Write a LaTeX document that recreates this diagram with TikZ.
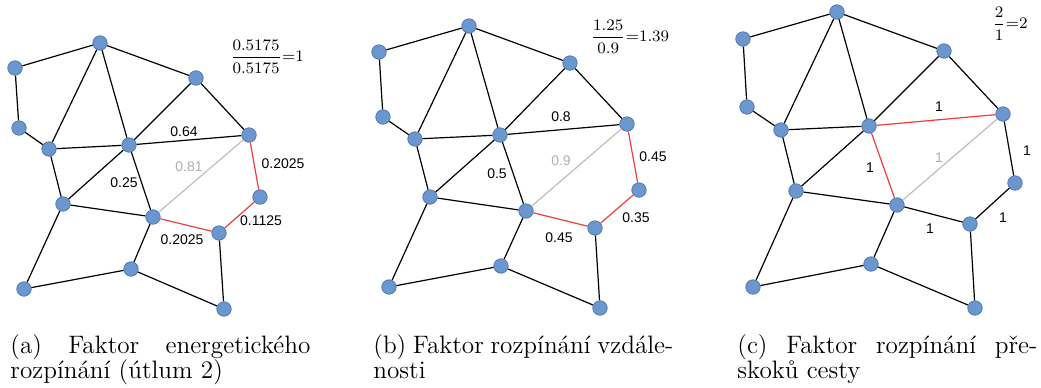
\documentclass[tikz,border=0pt]{standalone}
\usepackage{amsmath}
\usepackage{fontspec}
\newfontfamily\lab{Liberation Sans}
\definecolor{vfill}{RGB}{108,151,206}
\definecolor{vdraw}{RGB}{78,121,184}
\definecolor{redge}{RGB}{240,60,60}
\definecolor{gedge}{RGB}{190,190,190}
\definecolor{glab}{RGB}{175,175,175}
\tikzset{
  vtx/.style={circle,fill=vfill,draw=vdraw,line width=0.4pt,minimum size=7.2pt,inner sep=0pt},
  edg/.style={line width=0.6pt,black},
  redg/.style={line width=0.6pt,redge},
  gedg/.style={line width=0.6pt,gedge},
  elab/.style={font=\lab\fontsize{7}{8}\selectfont,inner sep=0pt},
  glabs/.style={elab,text=glab},
  frac/.style={font=\fontsize{7.6}{9}\selectfont,inner sep=0pt},
  capt/.style={anchor=base west,text width=150pt,align=justify,inner sep=0pt,font=\fontsize{12.6}{12.8}\selectfont},
}
\begin{document}
\begin{tikzpicture}[x=0.5pt,y=-0.5pt]
\useasboundingbox (0,0) rectangle (1041,387);
% panel a
\foreach \n/\x/\y in {A/100/43,B/15/68,C/196/78,D/19/128,E/49/149,F/129/145,G/249/135,H/63/204,I/153/217,J/260/197,K/219/233,L/131/269,M/24/289,N/224/309}
  \node[vtx] (a\n) at (\x,\y) {};
\foreach \n/\x/\y in {A/469/26,B/379/52,C/570/63,D/383/117,E/415/139,F/500/135,G/627/124,H/430/197,I/526/211,J/639/190,K/595/228,L/501/266,M/389/287,N/600/308}
  \node[vtx] (b\n) at (\x,\y) {};
\foreach \n/\x/\y in {A/837/12,B/743/39,C/944/51,D/747/107,E/781/130,F/869/126,G/1003/114,H/796/191,I/897/205,J/1015/183,K/970/224,L/871/264,M/753/287,N/975/308}
  \node[vtx] (c\n) at (\x,\y) {};
\foreach \p in {a,b,c}{
  \foreach \u/\v in {A/B,A/C,A/E,A/F,B/D,D/E,E/F,E/H,F/C,F/H,C/G,H/I,I/L,H/M,M/L,L/N,K/N}
    \draw[edg] (\p\u) -- (\p\v);
  \draw[gedg] (\p G) -- (\p I);
}
\foreach \p in {a,b}{
  \draw[edg] (\p F) -- (\p G);
  \draw[edg] (\p F) -- (\p I);
  \draw[redg] (\p G) -- (\p J);
  \draw[redg] (\p J) -- (\p K);
  \draw[redg] (\p I) -- (\p K);
}
\draw[redg] (cF) -- (cG);
\draw[redg] (cF) -- (cI);
\draw[edg] (cG) -- (cJ);
\draw[edg] (cJ) -- (cK);
\draw[edg] (cI) -- (cK);
% labels a
\node[elab] (la1) at (184,132) {0.64};
\node[glabs] (la2) at (189,167) {0.81};
\node[elab] (la3) at (124,183) {0.25};
\node[elab] (la4) at (283,164) {0.2025};
\node[elab] (la5) at (261,221) {0.1125};
\node[elab] (la6) at (182,240) {0.2025};
\node[frac] (fa) at (267,57) {$\dfrac{0.5175}{0.5175}{=}1$};
% labels b
\node[elab] (lb1) at (561,117) {0.8};
\node[glabs] (lb2) at (561,161) {0.9};
\node[elab] (lb3) at (497,174) {0.5};
\node[elab] (lb4) at (653,157) {0.45};
\node[elab] (lb5) at (636,218) {0.35};
\node[elab] (lb6) at (559,238) {0.45};
\node[frac] (fb) at (630,37) {$\dfrac{1.25}{0.9}{=}1.39$};
% labels c
\node[elab] (lc1) at (939,107) {1};
\node[glabs] (lc2) at (939,158) {1};
\node[elab] (lc3) at (870,168) {1};
\node[elab] (lc4) at (1027,151) {1};
\node[elab] (lc5) at (1003,218) {1};
\node[elab] (lc6) at (930,229) {1};
\node[frac] (fc) at (1010,24) {$\dfrac{2}{1}{=}2$};
% captions
\node[capt] (ca) at (10,353) {(a) Faktor energetického\linebreak rozpínání (útlum 2)};
\node[capt] (cb) at (373,353) {(b) Faktor rozpínání vzdále-\linebreak nosti};
\node[capt] (cc) at (737,353) {(c) Faktor rozpínání pře-\linebreak skoků cesty};
\end{tikzpicture}
\end{document}
